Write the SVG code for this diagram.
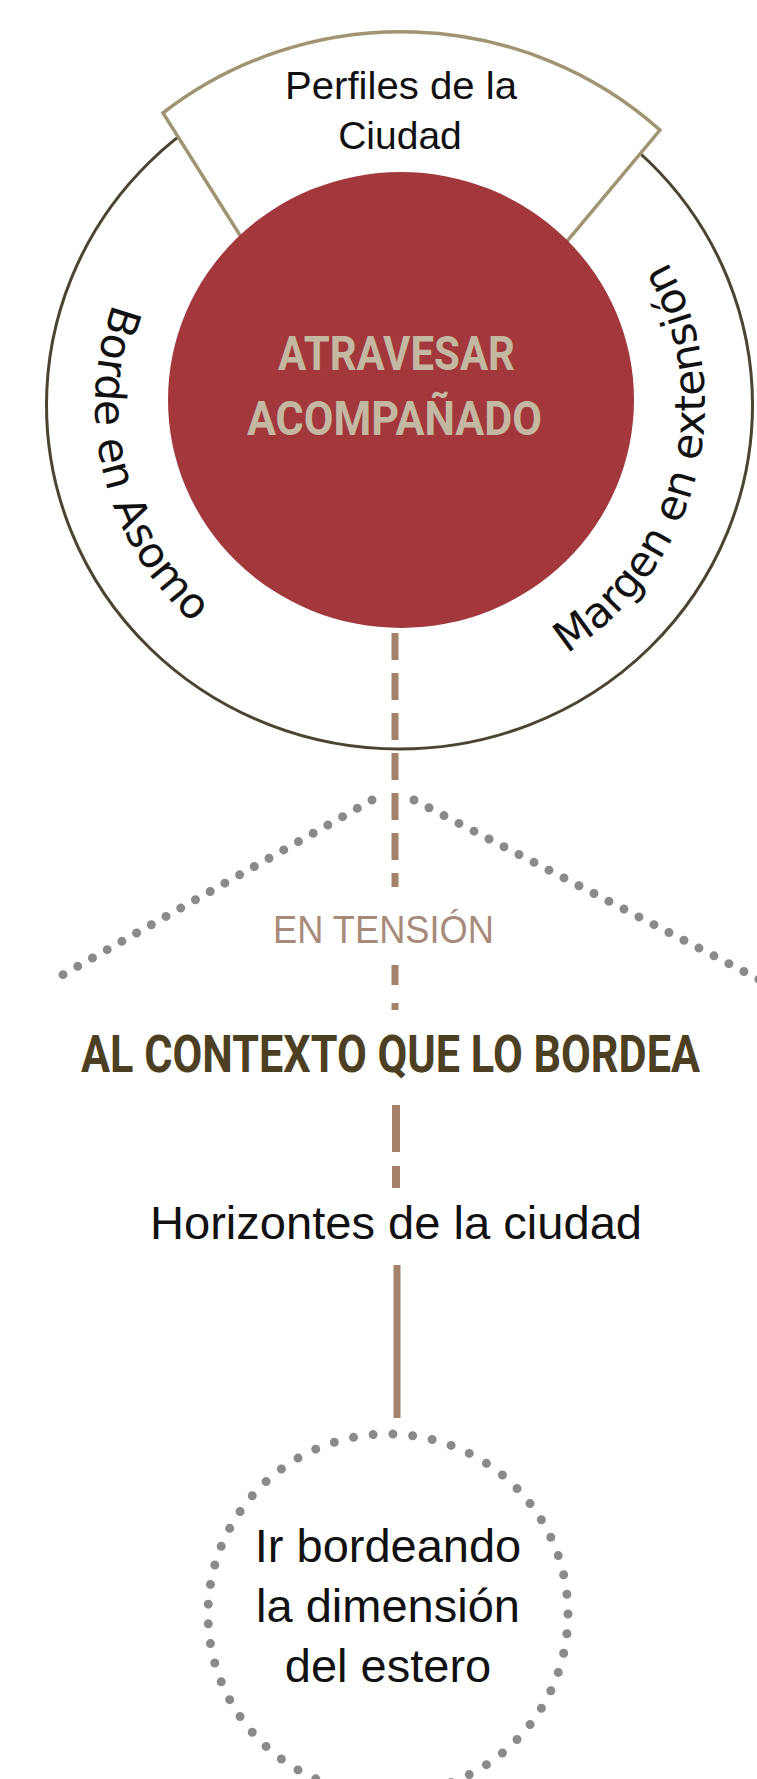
<svg xmlns="http://www.w3.org/2000/svg" width="757" height="1779" viewBox="0 0 757 1779">
  <style>
    .sans { font-family: "Liberation Sans", Arial, sans-serif; }
    .arc { font-family: "DejaVu Sans", "Liberation Sans", sans-serif; font-size: 42.5px; fill: #111; }
    .bold { font-family: Roboto, "Liberation Sans", sans-serif; font-weight: 700; }
    .dash { stroke: #a5806b; fill: none; }
    .dots { stroke: #8a8a8a; fill: none; stroke-linecap: round; stroke-width: 9; }
  </style>
  <defs>
    <path id="ringPath" d="M400,108 A305,297 0 0 0 400,702 A305,297 0 0 0 400,108"/>
  </defs>
  <rect width="757" height="1779" fill="#ffffff"/>

  <g id="node-ring">
    <ellipse cx="399.5" cy="405" rx="353" ry="344" fill="none" stroke="#4b4431" stroke-width="3"/>
    <text class="arc"><textPath href="#ringPath" startOffset="369">Borde en Asomo</textPath></text>
    <text class="arc"><textPath href="#ringPath" startOffset="1121">Margen en extensión</textPath></text>
  </g>

  <g id="node-perfiles">
    <path d="M163,113 A383,374 0 0 1 660,130 L553,258 L253,256 Z" fill="#ffffff" stroke="#a09473" stroke-width="3.5" stroke-linejoin="miter"/>
    <text class="sans" x="401" y="99" font-size="39" text-anchor="middle" fill="#111" textLength="232" lengthAdjust="spacingAndGlyphs">Perfiles de la</text>
    <text class="sans" x="400" y="149" font-size="39" text-anchor="middle" fill="#111">Ciudad</text>
  </g>

  <g id="node-center">
    <ellipse cx="401" cy="400" rx="233" ry="228" fill="#a2383b"/>
    <text class="bold" x="396.5" y="370" font-size="49" text-anchor="middle" fill="#c3b9a3" textLength="237" lengthAdjust="spacingAndGlyphs">ATRAVESAR</text>
    <text class="bold" x="394.5" y="435" font-size="49" text-anchor="middle" fill="#c3b9a3" textLength="295" lengthAdjust="spacingAndGlyphs">ACOMPAÑADO</text>
  </g>

  <g id="connectors">
    <line class="dash" x1="395" y1="633" x2="395" y2="887" stroke-width="7" stroke-dasharray="27 13"/>
    <line class="dash" x1="395" y1="965" x2="395" y2="985" stroke-width="7"/>
    <line class="dash" x1="395" y1="1003" x2="395" y2="1010" stroke-width="7"/>
    <line class="dash" x1="396" y1="1105" x2="396" y2="1152" stroke-width="8"/>
    <line class="dash" x1="396" y1="1166" x2="396" y2="1188" stroke-width="8"/>
    <line class="dash" x1="397" y1="1265" x2="397" y2="1418" stroke-width="7"/>
    <line class="dots" x1="372" y1="800" x2="50" y2="982" stroke-dasharray="0 16.9"/>
    <line class="dots" x1="414" y1="800" x2="770" y2="985" stroke-dasharray="0 16.9"/>
  </g>

  <g id="label-tension">
    <text class="sans" x="383.5" y="943" font-size="38" text-anchor="middle" fill="#a88a7a" textLength="221" lengthAdjust="spacingAndGlyphs">EN TENSIÓN</text>
  </g>

  <g id="node-contexto">
    <text class="bold" x="390.5" y="1072" font-size="52" text-anchor="middle" fill="#4d3f22" textLength="619" lengthAdjust="spacingAndGlyphs">AL CONTEXTO QUE LO BORDEA</text>
  </g>

  <g id="node-horizontes">
    <text class="sans" x="396" y="1239" font-size="47" text-anchor="middle" fill="#111" textLength="492" lengthAdjust="spacingAndGlyphs">Horizontes de la ciudad</text>
  </g>

  <g id="node-estero">
    <circle class="dots" cx="388" cy="1614" r="180" pathLength="57" stroke-dasharray="0 1"/>
    <text class="sans" x="388" y="1562" font-size="47" text-anchor="middle" fill="#111">Ir bordeando</text>
    <text class="sans" x="388" y="1622" font-size="47" text-anchor="middle" fill="#111">la dimensión</text>
    <text class="sans" x="388" y="1682" font-size="47" text-anchor="middle" fill="#111">del estero</text>
  </g>
</svg>
